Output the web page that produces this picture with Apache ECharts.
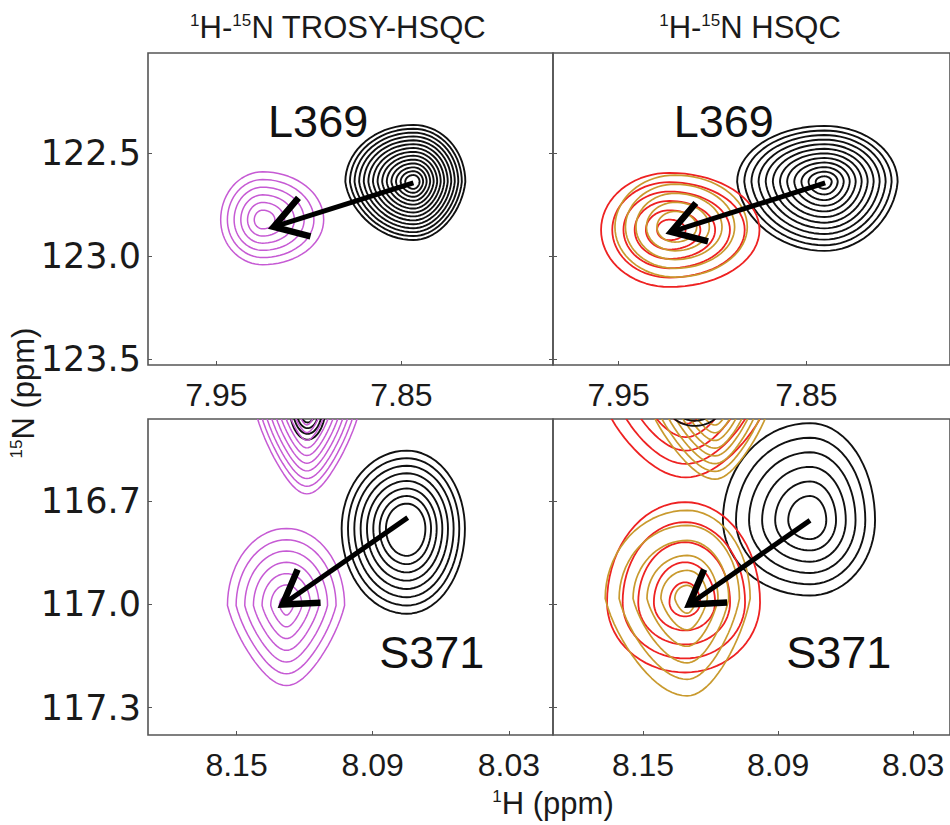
<!DOCTYPE html>
<html><head><meta charset="utf-8">
<script src="https://cdn.jsdelivr.net/npm/echarts@6/dist/echarts.min.js"></script>
<style>html,body{margin:0;padding:0;background:#fff}#c{width:950px;height:825px}</style>
</head><body><div id="c"></div>
<script>
// ---------- data ----------
const xTicksTop = [7.95, 7.85];
const xTicksBottom = [8.15, 8.09, 8.03];
const yTicksTop = [122.5, 123.0, 123.5];
const yTicksBottom = [116.7, 117.0, 117.3];
const xMin = [7.768, 7.7735, 8.0106, 8.0136];
const xMax = [7.987, 7.985, 8.189, 8.19];
const yMin = [122.015, 122.015, 116.46, 116.46];
const yMax = [123.53, 123.53, 117.38, 117.38];

// contour peaks (1H ppm, 15N ppm, half widths in ppm)
const peakPanel  = [0, 0, 1, 1, 1, 2, 2, 2, 2, 3, 3, 3, 3, 3, 3];
const peakType   = ['ref','trosy','ref','red','gold','ref','trosy','ref','trosy','ref','red','gold','ref','red','gold'];
const peakH      = [7.8435, 7.925, 7.8404, 7.923, 7.920, 8.1187, 8.119, 8.075, 8.128, 8.0758, 8.131, 8.118, 8.127, 8.1313, 8.1304];
const peakN      = [122.641, 122.825, 122.641, 122.874, 122.86, 116.42, 116.43, 116.779, 117.003, 116.755, 116.40, 116.41, 116.42, 116.994, 116.983];
const peakLeft   = [0.0368, 0.0227, 0.0465, 0.0364, 0.032, 0.008, 0.023, 0.0287, 0.026, 0.0387, 0.037, 0.030, 0.012, 0.0347, 0.0364];
const peakRight  = [0.0281, 0.033, 0.039, 0.048, 0.0385, 0.008, 0.0234, 0.0256, 0.0256, 0.0289, 0.037, 0.025, 0.012, 0.0333, 0.028];
const peakTop    = [0.277, 0.233, 0.272, 0.277, 0.252, 0.06, 0.20, 0.227, 0.2245, 0.283, 0.20, 0.20, 0.05, 0.292, 0.257];
const peakBottom = [0.282, 0.218, 0.335, 0.277, 0.243, 0.10, 0.248, 0.248, 0.233, 0.219, 0.23, 0.225, 0.06, 0.204, 0.283];
const peakLevels = [14, 6, 12, 6, 5, 4, 11, 8, 7, 6, 6, 10, 3, 5, 6];
const peakInner  = [0.12, 0.2, 0.1, 0.18, 0.3, 0.5, 0.1, 0.32, 0.12, 0.25, 0.15, 0.1, 0.5, 0.2, 0.15];
const peakTaper  = [0.12, 0, 0.08, 0, 0, 0, 0.4, 0, 0.35, 0, 0.3, 0.4, 0, 0, 0.3];

// arrows (tail = reference peak, head = shifted peak)
const arrowPanel = [0, 1, 2, 3];
const arrowTailH = [7.8435, 7.840, 8.0746, 8.0758];
const arrowTailN = [122.646, 122.646, 116.747, 116.755];
const arrowHeadH = [7.919, 7.922, 8.1297, 8.1295];
const arrowHeadN = [122.859, 122.884, 117.0, 117.0];

// residue labels
const labelPanel = [0, 1, 2, 3];
const labelText  = ['L369', 'L369', 'S371', 'S371'];
const labelH     = [7.895, 7.894, 8.064, 8.063];
const labelN     = [122.35, 122.35, 117.14, 117.14];

// ---------- styles ----------
const typeColor = {ref:'#111111', trosy:'#c65ad4', red:'#ee2222', gold:'#c99a2e'};
const typeWidth = {ref:1.9, trosy:1.5, red:1.8, gold:1.7};
const REG = "'Liberation Sans',Arial,sans-serif";
const WIDE = "'DejaVu Sans',sans-serif";

const grids = [
  {left:148, top:53, width:405, height:312},
  {left:553, top:53, width:397, height:312},
  {left:148, top:419, width:405, height:316},
  {left:553, top:419, width:397, height:316}
].map(g => Object.assign(g, {show:true, borderColor:'#555', borderWidth:1.6, backgroundColor:'transparent',
                              containLabel:false, outerBoundsMode:'none'}));

const xAxes = [0,1,2,3].map(i => {
  const ticks = i < 2 ? xTicksTop : xTicksBottom;
  return {
    gridIndex:i, type:'value', inverse:true, min:xMin[i], max:xMax[i], position:'bottom',
    axisLine:{show:false}, splitLine:{show:false},
    axisTick:{show:true, inside:true, length:4, customValues:ticks, lineStyle:{color:'#555', width:1}},
    axisLabel:{customValues:ticks, formatter:v => v.toFixed(2), fontFamily:REG, fontSize:32, color:'#1a1a1a', margin:14}
  };
});
const yAxes = [];
[0,1,2,3].forEach(i => {
  const ticks = i < 2 ? yTicksTop : yTicksBottom;
  yAxes.push({
    gridIndex:i, type:'value', inverse:true, min:yMin[i], max:yMax[i], position:'left',
    axisLine:{show:false}, splitLine:{show:false},
    axisTick:{show:true, inside:true, length:4, customValues:ticks, lineStyle:{color:'#555', width:1}},
    axisLabel:{show: i % 2 === 0, customValues:ticks, formatter:v => v.toFixed(1), fontFamily:WIDE, fontSize:35, color:'#1a1a1a', margin:7}
  });
});
[0,2].forEach(i => {
  const ticks = i < 2 ? yTicksTop : yTicksBottom;
  yAxes.push({
    gridIndex:i, type:'value', inverse:true, min:yMin[i], max:yMax[i], position:'right',
    axisLine:{show:false}, splitLine:{show:false},
    axisTick:{show:true, inside:true, length:4, customValues:ticks, lineStyle:{color:'#555', width:1}},
    axisLabel:{show:false}
  });
});

function contourRender(params, api) {
  const idx = api.value(2);
  const H = peakH[idx], N = peakN[idx];
  const c = api.coord([H, N]);
  const xL = Math.abs(api.coord([H + peakLeft[idx], N])[0] - c[0]);
  const xR = Math.abs(api.coord([H - peakRight[idx], N])[0] - c[0]);
  const yT = Math.abs(api.coord([H, N - peakTop[idx]])[1] - c[1]);
  const yB = Math.abs(api.coord([H, N + peakBottom[idx]])[1] - c[1]);
  const cs = params.coordSys;
  const n = peakLevels[idx], inner = peakInner[idx], taper = peakTaper[idx];
  const t = peakType[idx];
  const children = [];
  for (let k = 0; k < n; k++) {
    const f = n === 1 ? 1 : inner + (1 - inner) * k / (n - 1);
    const pts = [];
    const M = 72;
    for (let j = 0; j < M; j++) {
      const th = 2 * Math.PI * j / M;
      const cx = Math.cos(th), sy = Math.sin(th);
      const wf = sy > 0 ? 1 - taper * sy : 1;
      pts.push([c[0] + (cx < 0 ? xL : xR) * f * cx * wf, c[1] + (sy < 0 ? yT : yB) * f * sy]);
    }
    children.push({
      type:'polygon', shape:{points:pts},
      style:{fill:'none', stroke:typeColor[t], lineWidth:typeWidth[t], lineJoin:'round'},
      clipPath:{type:'rect', shape:{x:cs.x, y:cs.y, width:cs.width, height:cs.height}}
    });
  }
  return {type:'group', children};
}

function arrowRender(params, api) {
  const tail = api.coord([api.value(0), api.value(1)]);
  const head = api.coord([api.value(2), api.value(3)]);
  const ang = Math.atan2(tail[1] - head[1], tail[0] - head[0]);
  const L = 38, a = 32 * Math.PI / 180;
  const p1 = [head[0] + L * Math.cos(ang + a), head[1] + L * Math.sin(ang + a)];
  const p2 = [head[0] + L * Math.cos(ang - a), head[1] + L * Math.sin(ang - a)];
  return {type:'group', children:[
    {type:'line', shape:{x1:tail[0], y1:tail[1], x2:head[0], y2:head[1]}, style:{stroke:'#000', lineWidth:5}},
    {type:'polyline', shape:{points:[p1, head, p2]}, style:{stroke:'#000', fill:'none', lineWidth:6.5, lineJoin:'miter'}}
  ]};
}

function labelRender(params, api) {
  const p = api.coord([api.value(0), api.value(1)]);
  return {type:'text', x:p[0], y:p[1], style:{text:labelText[api.value(2)], fontFamily:REG, fontSize:45,
          fill:'#111', align:'center', verticalAlign:'middle'}};
}

const series = [];
[0,1,2,3].forEach(p => {
  const data = [];
  peakPanel.forEach((pp, i) => { if (pp === p) data.push([peakH[i], peakN[i], i]); });
  series.push({type:'custom', xAxisIndex:p, yAxisIndex:p, data, renderItem:contourRender, silent:true, z:2,
               encode:{x:0, y:1}});
  const adata = [];
  arrowPanel.forEach((ap, i) => { if (ap === p) adata.push([arrowTailH[i], arrowTailN[i], arrowHeadH[i], arrowHeadN[i]]); });
  series.push({type:'custom', xAxisIndex:p, yAxisIndex:p, data:adata, renderItem:arrowRender, silent:true, z:3,
               encode:{x:[0,2], y:[1,3]}});
  const ldata = [];
  labelPanel.forEach((lp, i) => { if (lp === p) ldata.push([labelH[i], labelN[i], i]); });
  series.push({type:'custom', xAxisIndex:p, yAxisIndex:p, data:ldata, renderItem:labelRender, silent:true, z:4,
               encode:{x:0, y:1}});
});

const supRich = (size, supSize, fam) => ({
  m:{fontSize:size, fontFamily:fam, fill:'#1a1a1a', color:'#1a1a1a'},
  s:{fontSize:supSize, fontFamily:fam, fill:'#1a1a1a', color:'#1a1a1a', verticalAlign:'top'}
});

const option = {
  backgroundColor:'#fff',
  animation:false,
  grid:grids, xAxis:xAxes, yAxis:yAxes, series,
  graphic:[
    {type:'text', x:338, y:27, style:{text:'{s|1}{m|H-}{s|15}{m|N TROSY-HSQC}', rich:supRich(31, 17, REG), align:'center', verticalAlign:'middle'}},
    {type:'text', x:750, y:27, style:{text:'{s|1}{m|H-}{s|15}{m|N HSQC}', rich:supRich(31, 17, REG), align:'center', verticalAlign:'middle'}},
    {type:'text', x:553, y:803, style:{text:'{s|1}{m|H (ppm)}', rich:supRich(31, 17, REG), align:'center', verticalAlign:'middle'}},
    {type:'text', x:23, y:393, rotation:Math.PI/2, style:{text:'{s|15}{m|N (ppm)}', rich:supRich(31, 17, REG), align:'center', verticalAlign:'middle'}}
  ]
};
const chart = echarts.init(document.getElementById('c'), null, {renderer:'svg'});
chart.setOption(option);
</script></body></html>
